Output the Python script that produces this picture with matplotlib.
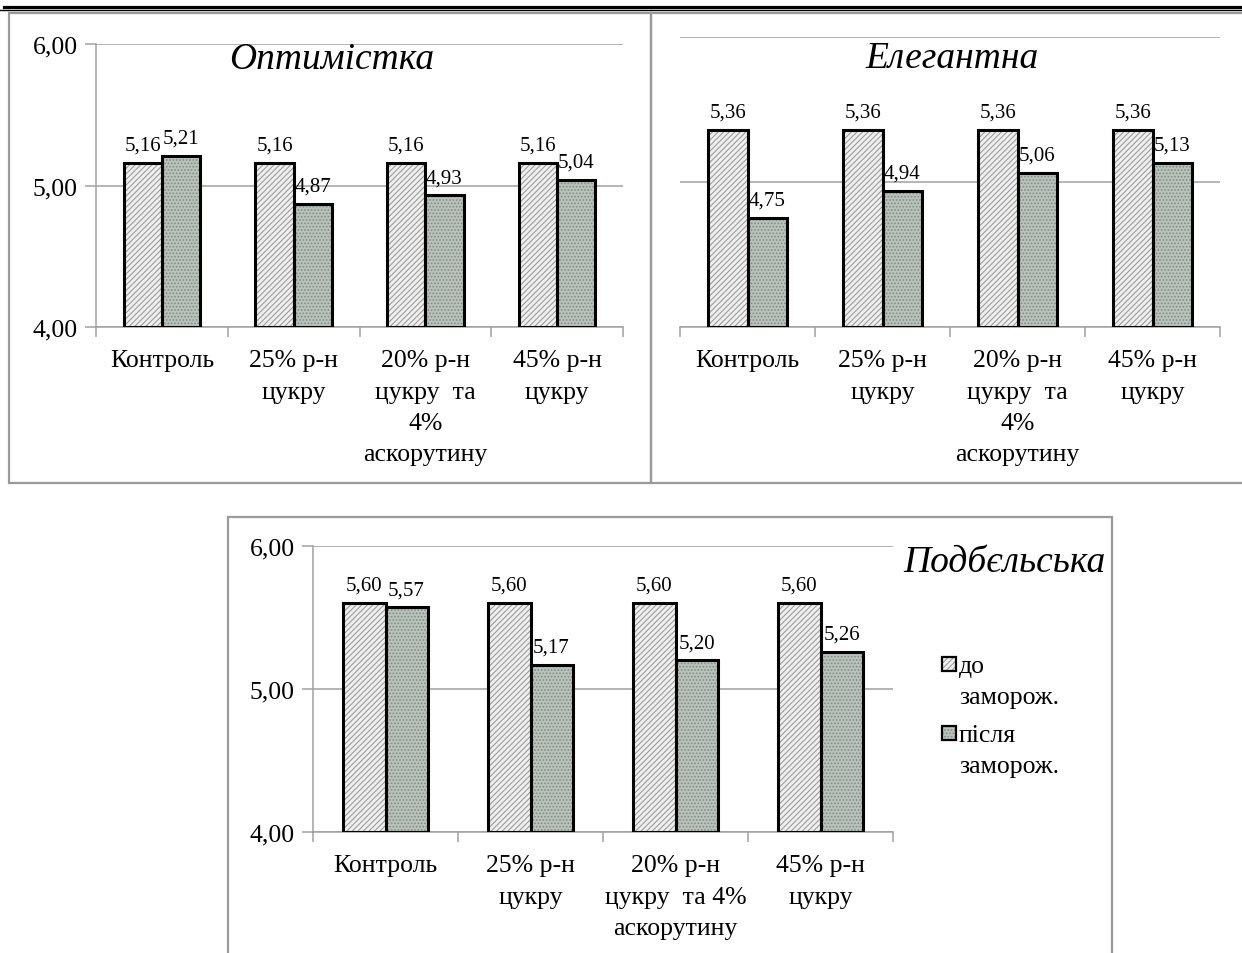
import numpy as np
import matplotlib
matplotlib.use("Agg")
import matplotlib.pyplot as plt
from matplotlib.patches import Rectangle
from matplotlib.lines import Line2D

plt.rcParams['font.family'] = ['Liberation Serif', 'DejaVu Serif']
plt.rcParams['hatch.linewidth'] = 0.8

# pH of berries before and after freezing, per treatment
labels_top = ['Контроль', '25% р-н\nцукру', '20% р-н\nцукру  та\n4%\nаскорутину', '45% р-н\nцукру']
labels_bottom = ['Контроль', '25% р-н\nцукру', '20% р-н\nцукру  та 4%\nаскорутину', '45% р-н\nцукру']

optim_before = [5.16, 5.16, 5.16, 5.16]
optim_after = [5.21, 4.87, 4.93, 5.04]
eleg_before = [5.36, 5.36, 5.36, 5.36]
eleg_after = [4.75, 4.94, 5.06, 5.13]
podb_before = [5.60, 5.60, 5.60, 5.60]
podb_after = [5.57, 5.17, 5.20, 5.26]

series_names = ['до\nзаморож.', 'після\nзаморож.']

W, H = 1242, 954
fig = plt.figure(figsize=(W / 100, H / 100), dpi=100)

LABEL_FS = 18.5


def px_axes(x0, y0, x1, y1):
    # axes from pixel box (top-left origin)
    return fig.add_axes([x0 / W, 1 - y1 / H, (x1 - x0) / W, (y1 - y0) / H])


def frame(x0, y0, x1, y1):
    fig.add_artist(Rectangle((x0 / W, 1 - y1 / H), (x1 - x0) / W, (y1 - y0) / H,
                             transform=fig.transFigure, fill=False,
                             edgecolor='#9a9a9a', linewidth=1.6))


def fmt(v):
    return f'{v:.2f}'.replace('.', ',')


def bar_chart(ax, before, after, labels, title, title_xy, show_y=True):
    x = np.arange(len(before))
    w = 0.29
    series = [(before, -w / 2, '#efefef', '#9c9c9c', '//////'),
              (after, w / 2, '#b9c3bc', '#7f8c84', '.....')]
    for vals, off, fc, hc, hatch in series:
        # fill + hatch first, then the black outline on top
        ax.bar(x + off, np.array(vals) - 4, w, bottom=4, color=fc, edgecolor=hc,
               hatch=hatch, linewidth=0, zorder=3)
        ax.bar(x + off, np.array(vals) - 4, w, bottom=4, fill=False,
               edgecolor='black', linewidth=2.2, zorder=4)
        for xi, v in zip(x + off, vals):
            ax.annotate(fmt(v), (xi, v), xytext=(0, 6), textcoords='offset points',
                        ha='center', va='bottom', fontsize=15, zorder=2)

    ax.set_xlim(-0.5, len(before) - 0.5)
    ax.set_ylim(4, 6)
    ax.set_yticks([4, 5, 6])
    ax.yaxis.grid(True, color='#a0a0a0', linewidth=1.1, zorder=0)
    ax.set_axisbelow(True)
    for s in ['top', 'right']:
        ax.spines[s].set_visible(False)
    ax.spines['bottom'].set_color('#a0a0a0')
    ax.spines['left'].set_color('#a0a0a0')
    ax.spines['bottom'].set_linewidth(1.1)
    ax.spines['left'].set_linewidth(1.1)

    # category labels between boundary ticks
    ax.set_xticks(np.arange(len(before) + 1) - 0.5)
    ax.set_xticklabels([])
    ax.set_xticks(x, minor=True)
    ax.set_xticklabels(labels, minor=True, fontsize=LABEL_FS, linespacing=1.55)
    ax.tick_params(axis='x', which='major', length=7, color='#a0a0a0', width=1.1)
    ax.tick_params(axis='x', which='minor', length=0, pad=16)

    if show_y:
        ax.set_yticklabels([fmt(v) for v in [4, 5, 6]], fontsize=LABEL_FS)
        ax.tick_params(axis='y', length=8, color='#a0a0a0', width=1.1, pad=5)
    else:
        ax.spines['left'].set_visible(False)
        ax.tick_params(axis='y', length=0, labelleft=False)

    fig.text(title_xy[0] / W, 1 - title_xy[1] / H, title, fontsize=27,
             style='italic', ha='center', va='center')


# decorative page rules and panel frames
fig.add_artist(Line2D([0.003, 1], [1 - 7.6 / H] * 2, transform=fig.transFigure,
                      color='black', linewidth=2.3))
fig.add_artist(Line2D([0, 1], [1 - 11.2 / H] * 2, transform=fig.transFigure,
                      color='black', linewidth=1.0))
frame(9, 14, 651, 484)
frame(651, 14, 1250, 484)
frame(228, 518, 1112, 970)

ax1 = px_axes(96, 45, 623, 328)
bar_chart(ax1, optim_before, optim_after, labels_top, 'Оптимістка', (332, 60))

ax2 = px_axes(680, 38, 1220, 328)
bar_chart(ax2, eleg_before, eleg_after, labels_top, 'Елегантна', (952, 59), show_y=False)

ax3 = px_axes(313, 547, 893, 833)
bar_chart(ax3, podb_before, podb_after, labels_bottom, 'Подбєльська', (1004, 563))

# legend, drawn by hand so the swatch sits on the first text line
legend_items = [(series_names[0], '#efefef', '#9c9c9c', '//////', 658),
                (series_names[1], '#b9c3bc', '#7f8c84', '.....', 727)]
for name, fc, hc, hatch, top in legend_items:
    fig.add_artist(Rectangle((942 / W, 1 - (top + 14) / H), 14 / W, 14 / H,
                             transform=fig.transFigure, facecolor=fc, edgecolor=hc,
                             hatch=hatch, linewidth=0))
    fig.add_artist(Rectangle((942 / W, 1 - (top + 14) / H), 14 / W, 14 / H,
                             transform=fig.transFigure, fill=False,
                             edgecolor='black', linewidth=1.6))
    fig.text(959 / W, 1 - (top - 2) / H, name, fontsize=LABEL_FS, ha='left', va='top',
             linespacing=1.55)

fig.savefig('out.png', dpi=100, facecolor='white')
